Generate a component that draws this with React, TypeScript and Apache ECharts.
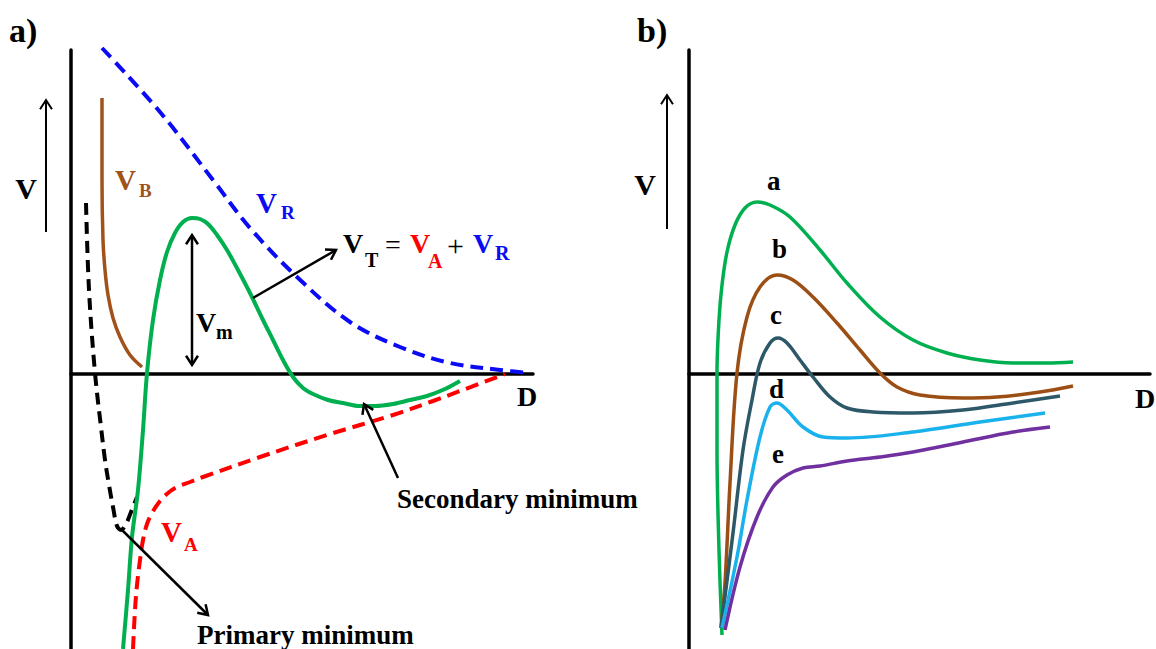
import React, { useEffect, useRef } from "react";
import * as echarts from "echarts";

// ---------- Panel a) : [D, V] ----------
const repulsionVR: number[][] = [
  [3.1, 32.6], [8.9, 26.2], [14.2, 19.4], [17.9, 14.6], [22.6, 9.7], [27.9, 5.2],
  [32.9, 2.7], [37.9, 1.1], [42.9, 0.4], [45.9, 0.1],
];
const bornVB: number[][] = [
  [3.1, 27.6], [3.1, 19.4], [3.2, 13.4], [3.4, 10.4], [3.7, 7.9], [4.2, 5.6],
  [4.9, 3.7], [5.9, 1.9], [7.1, 0.7],
];
const shortRange: number[][] = [
  [1.5, 17.1], [1.8, 8.4], [2.4, 0.1], [3.0, -5.3], [3.4, -8.6], [3.8, -11.1],
  [4.2, -13.3], [4.6, -15.2], [5.0, -15.6], [5.5, -15.0], [6.0, -13.8], [6.6, -12.3],
];
const totalVT: number[][] = [
  [5.2, -27.5], [5.7, -21.6], [6.1, -16.3], [6.7, -11.6], [7.2, -5.6], [7.6, 0.1],
  [8.2, 5.4], [8.9, 9.4], [9.6, 12.2], [10.4, 14.1], [11.2, 15.2], [12.1, 15.6],
  [12.9, 15.5], [13.7, 15.0], [14.6, 13.9], [15.6, 12.4], [16.7, 10.4], [17.9, 8.1],
  [19.1, 5.6], [20.2, 3.4], [21.2, 1.4], [22.2, -0.3], [23.2, -1.4], [24.2, -2.0],
  [25.7, -2.6], [27.2, -2.9], [28.9, -3.2], [30.4, -3.2], [32.2, -3.0], [33.9, -2.6],
  [35.6, -2.2], [37.4, -1.5], [38.9, -0.7],
];
const attractionVA: number[][] = [
  [6.2, -27.5], [6.4, -23.6], [6.6, -21.1], [6.9, -18.6], [7.2, -16.6], [7.6, -15.0],
  [8.1, -13.9], [8.9, -12.7], [9.7, -11.9], [10.6, -11.3], [11.9, -10.8], [13.2, -10.3],
  [18.9, -8.3], [25.6, -6.1], [32.2, -4.1], [36.2, -2.7], [38.9, -1.7], [43.4, 0],
];

// ---------- Panel b) : [D, V] ----------
const curveA: number[][] = [
  [3.3, -26.1], [3.0, -17.6], [2.8, -7.6], [2.8, 0.1], [3.0, 5.4], [3.3, 8.9],
  [3.8, 12.2], [4.6, 14.9], [5.6, 16.6], [6.8, 17.2], [8.1, 16.9], [10.1, 15.7],
  [13.1, 12.4], [15.8, 9.1], [19.1, 5.7], [22.4, 3.4], [25.8, 2.1], [29.1, 1.4],
  [32.4, 1.1], [35.8, 1.1], [38.4, 1.2],
];
const curveB: number[][] = [
  [3.2, -25.4], [3.6, -20.9], [4.1, -10.9], [4.8, 0.1], [5.8, 5.7], [7.1, 8.7],
  [8.8, 9.9], [10.4, 9.4], [12.4, 7.7], [14.8, 5.1], [17.1, 2.4], [19.1, 0.1],
  [20.8, -1.3], [23.1, -2.1], [27.4, -2.4], [30.8, -2.3], [35.1, -1.8], [38.4, -1.2],
];
const curveC: number[][] = [
  [3.2, -25.4], [4.4, -15.9], [5.4, -7.6], [6.3, -2.6], [7.1, 1.1], [8.1, 3.1],
  [8.9, 3.6], [9.8, 3.1], [11.1, 1.4], [12.4, -0.3], [14.1, -2.3], [15.8, -3.4],
  [18.4, -3.8], [22.4, -3.9], [27.4, -3.6], [32.4, -2.9], [37.1, -2.2],
];
const curveD: number[][] = [
  [3.3, -25.4], [4.8, -18.3], [5.8, -12.6], [7.1, -6.3], [8.1, -3.3], [8.8, -2.9],
  [9.8, -3.6], [11.4, -5.3], [13.4, -6.3], [15.8, -6.4], [22.4, -5.8], [29.1, -4.8],
  [35.6, -3.9],
];
const curveE: number[][] = [
  [3.6, -25.6], [5.1, -19.3], [6.8, -14.3], [8.4, -11.3], [9.8, -10.1], [11.4, -9.4],
  [13.1, -9.2], [15.8, -8.7], [19.1, -8.3], [22.4, -7.8], [27.4, -6.8], [32.4, -5.8],
  [36.1, -5.3],
];

const FONT = '"Liberation Serif", "Times New Roman", serif';

function txt(text: string, x: number, y: number, size: number, fill = "#000", align = "left", weight = "bold") {
  return {
    type: "text",
    x,
    y,
    z: 50,
    style: {
      text,
      fill,
      fontFamily: FONT,
      fontWeight: weight,
      fontSize: size,
      align,
      verticalAlign: "middle",
    },
  };
}

function arrow(x1: number, y1: number, x2: number, y2: number, w = 2, both = false) {
  const out: any[] = [
    { type: "line", z: 40, shape: { x1, y1, x2, y2 }, style: { stroke: "#000", lineWidth: w } },
  ];
  const head = (tx: number, ty: number, fx: number, fy: number) => {
    const ang = Math.atan2(ty - fy, tx - fx);
    const L = 11;
    const a = Math.PI / 5.5;
    return {
      type: "polyline",
      z: 40,
      shape: {
        points: [
          [tx - L * Math.cos(ang - a), ty - L * Math.sin(ang - a)],
          [tx, ty],
          [tx - L * Math.cos(ang + a), ty - L * Math.sin(ang + a)],
        ],
      },
      style: { stroke: "#000", lineWidth: w, fill: null },
    };
  };
  out.push(head(x2, y2, x1, y1));
  if (both) out.push(head(x1, y1, x2, y2));
  return out;
}

function lineSeries(data: number[][], idx: number, color: string, width: number, dashed?: number[]) {
  return {
    type: "line",
    xAxisIndex: idx,
    yAxisIndex: idx,
    data,
    symbol: "none",
    showSymbol: false,
    smooth: 0.35,
    clip: false,
    silent: true,
    lineStyle: { color, width, type: dashed ? dashed : "solid", cap: "butt" },
    z: 5,
  };
}

export default function App() {
  const ref = useRef<HTMLDivElement>(null);
  useEffect(() => {
    if (!ref.current) return;
    const chart = echarts.init(ref.current, undefined, { renderer: "svg" });
    const axisLine = { show: true, onZero: true, lineStyle: { color: "#000", width: 3.5 } };
    const hidden = {
      axisTick: { show: false },
      axisLabel: { show: false },
      splitLine: { show: false },
    };
    const brown = "#a0521a";
    const red = "#ff0000";
    const blue = "#0a0af5";
    const option: any = {
      animation: false,
      backgroundColor: "#ffffff",
      grid: [
        { left: 71, top: 50, width: 462, height: 599 },
        { left: 689, top: 50, width: 461, height: 599 },
      ],
      xAxis: [
        { type: "value", gridIndex: 0, min: 0, max: 46.2, axisLine, ...hidden },
        { type: "value", gridIndex: 1, min: 0, max: 46.1, axisLine, ...hidden },
      ],
      yAxis: [
        { type: "value", gridIndex: 0, min: -27.5, max: 32.4, axisLine, ...hidden },
        { type: "value", gridIndex: 1, min: -27.5, max: 32.4, axisLine, ...hidden },
      ],
      series: [
        lineSeries(repulsionVR, 0, blue, 4, [13, 7]),
        lineSeries(bornVB, 0, brown, 3.5),
        lineSeries(shortRange, 0, "#000", 4, [12, 7]),
        lineSeries(attractionVA, 0, red, 4, [13, 7]),
        lineSeries(totalVT, 0, "#00b050", 4),
        lineSeries(curveA, 1, "#00b050", 3.5),
        lineSeries(curveB, 1, "#9c4f14", 3.5),
        lineSeries(curveC, 1, "#2d5868", 3.5),
        lineSeries(curveD, 1, "#1ab2ec", 3.5),
        lineSeries(curveE, 1, "#7030a0", 3.5),
      ],
      graphic: [
        // panel a texts
        txt("a)", 9, 30, 34),
        txt("V", 26, 188, 30, "#000", "center"),
        txt("V", 115, 180, 29, brown),
        txt("B", 139, 190, 19, brown),
        txt("V", 256, 203, 29, blue),
        txt("R", 281, 212, 19, blue),
        txt("V", 343, 243, 28),
        txt("T", 365, 260, 20),
        txt("=", 385, 244, 28, "#000", "left", "normal"),
        txt("V", 410, 243, 28, red),
        txt("A", 428, 261, 20, red),
        txt("+", 447, 245, 30, "#000", "left", "normal"),
        txt("V", 473, 243, 28, blue),
        txt("R", 495, 253, 20, blue),
        txt("V", 196, 322, 28),
        txt("m", 216, 332, 20),
        txt("V", 161, 532, 29, red),
        txt("A", 184, 544, 19, red),
        txt("D", 517, 396, 28),
        txt("Secondary minimum", 397, 499, 27),
        txt("Primary minimum", 197, 635, 27),
        // panel b texts
        txt("b)", 637, 30, 34),
        txt("V", 645, 184, 30, "#000", "center"),
        txt("a", 767, 181, 27),
        txt("b", 772, 249, 27),
        txt("c", 770, 315, 27),
        txt("d", 769, 389, 27),
        txt("e", 772, 454, 27),
        txt("D", 1135, 398, 28),
        // arrows
        ...arrow(46, 232, 46, 100, 2),
        ...arrow(667, 229, 667, 95, 2),
        ...arrow(192, 365, 192, 235, 2.5, true),
        ...arrow(253, 298, 336, 250, 2.5),
        ...arrow(398, 478, 364, 404, 2.5),
        ...arrow(122, 530, 208, 615, 2.5),
      ],
    };
    chart.setOption(option);
    return () => chart.dispose();
  }, []);
  return (
    <div
      ref={ref}
      style={{ position: "absolute", left: 0, top: 0, width: 1156, height: 649, background: "#fff" }}
    />
  );
}
